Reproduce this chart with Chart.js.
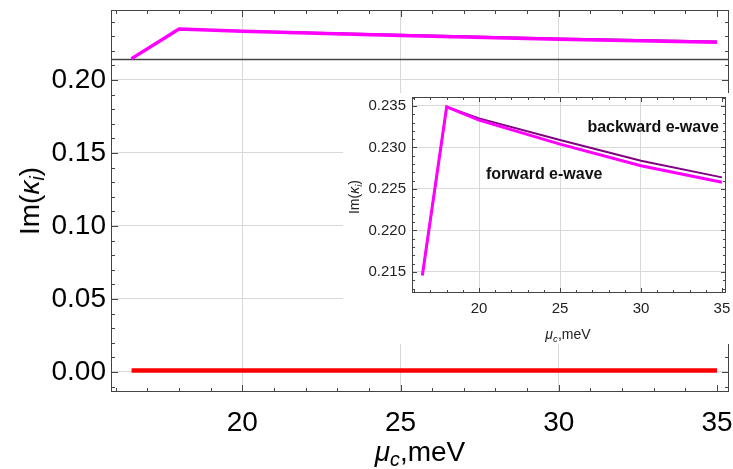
<!DOCTYPE html>
<html>
<head>
<meta charset="utf-8">
<script src="https://cdn.jsdelivr.net/npm/chart.js@4"></script>
<style>
  body { margin: 0; background: #fff; }
  #wrap { position: relative; width: 733px; height: 469px; font-family: "Liberation Sans", Arial, sans-serif; color: #000; }
  #main { position: absolute; left: 0; top: 0; }
  #insetBox { position: absolute; left: 343px; top: 93px; width: 390px; height: 251px; background: #fff; }
  #inset { position: absolute; left: 0; top: 0; }
  .lbl { position: absolute; white-space: nowrap; line-height: 1; transform: translate(-50%, -50%); }
  .rot { transform: translate(-50%, -50%) rotate(-90deg); }
  .lbl sub { font-size: 0.7em; vertical-align: baseline; position: relative; top: 0.28em; }
  .note { position: absolute; white-space: nowrap; line-height: 1; font-weight: bold; font-size: 16px; color: #111; }
</style>
</head>
<body>
<div id="wrap">
  <canvas id="main" width="733" height="469"></canvas>
  <div class="lbl rot" style="left:30px; top:201px; font-size:28px;">Im(<i>κ</i><sub><i>i</i></sub>)</div>
  <div class="lbl" style="left:420px; top:452px; font-size:28px;"><i>μ</i><sub><i>c</i></sub>,meV</div>
  <div id="insetBox">
    <canvas id="inset" width="390" height="251"></canvas>
    <div class="lbl rot" style="left:11px; top:104px; font-size:14px; color:#222;">Im(<i>κ</i><sub><i>i</i></sub>)</div>
    <div class="lbl" style="left:225px; top:241px; font-size:14px; color:#222;"><i>μ</i><sub><i>c</i></sub>,meV</div>
    <div class="note" style="right:14px; top:26px;">backward e-wave</div>
    <div class="note" style="left:143px; top:73px;">forward e-wave</div>
  </div>
</div>
<script>
// data
const muC = [16.5, 18, 20, 25, 30, 35];
const forwardWave = [0.2146, 0.2349, 0.2333, 0.2304, 0.2278, 0.2258];
const backwardWave = [0.2146, 0.2349, 0.2335, 0.2309, 0.2284, 0.2264];
const zeroMode = [0.001, 0.001, 0.001, 0.001, 0.001, 0.001];

const mainXTicks = [20, 25, 30, 35];
const mainYTicks = [0, 0.05, 0.10, 0.15, 0.20];
const insetXTicks = [20, 25, 30, 35];
const insetYTicks = [0.215, 0.220, 0.225, 0.230, 0.235];
const breakLineY = 0.2144;

Chart.defaults.font.family = "'Liberation Sans', Arial, sans-serif";
Chart.defaults.color = '#000';

const pts = (xs, ys) => xs.map((x, i) => ({ x: x, y: ys[i] }));

// Mathematica style frame: box + inward ticks on all sides
const framePlugin = {
    id: 'frame',
    beforeDatasetsDraw(chart, args, o) {
        if (o.refLine === undefined) return;
        const { ctx, chartArea: a, scales: { y } } = chart;
        const py = Math.round(y.getPixelForValue(o.refLine)) + 0.5;
        ctx.save();
        ctx.strokeStyle = '#444';
        ctx.lineWidth = 1.3;
        ctx.beginPath();
        ctx.moveTo(a.left, py);
        ctx.lineTo(a.right, py);
        ctx.stroke();
        ctx.restore();
    },
    afterDatasetsDraw(chart, args, o) {
        const { ctx, chartArea: a, scales: { x, y } } = chart;
        ctx.save();
        ctx.strokeStyle = '#444';
        ctx.lineWidth = 1;
        ctx.strokeRect(a.left + 0.5, a.top + 0.5, a.right - a.left - 1, a.bottom - a.top - 1);
        ctx.beginPath();
        for (let k = Math.ceil(x.min / o.xStep); k * o.xStep <= x.max; k++) {
            const px = Math.round(x.getPixelForValue(k * o.xStep)) + 0.5;
            const len = k % o.every === 0 ? o.major : o.minor;
            ctx.moveTo(px, a.bottom); ctx.lineTo(px, a.bottom - len);
            ctx.moveTo(px, a.top); ctx.lineTo(px, a.top + len);
        }
        for (let k = Math.ceil(y.min / o.yStep - 1e-9); k * o.yStep <= y.max + 1e-12; k++) {
            const py = Math.round(y.getPixelForValue(k * o.yStep)) + 0.5;
            const len = k % o.every === 0 ? o.major : o.minor;
            ctx.moveTo(a.left, py); ctx.lineTo(a.left + len, py);
            ctx.moveTo(a.right, py); ctx.lineTo(a.right - len, py);
        }
        ctx.stroke();
        ctx.restore();
    }
};

function fixWidth(w) {
    return s => { s.width = w; s.paddingTop = 0; s.paddingBottom = 0; };
}
function fixHeight(h) {
    return s => { s.height = h; s.paddingLeft = 0; s.paddingRight = 0; };
}
function gridColor(skip, col) {
    return c => (c.tick && skip.includes(c.tick.value)) ? 'rgba(0,0,0,0)' : col;
}

// =======================
// MAIN CHART
// =======================
new Chart(document.getElementById('main'), {
    type: 'line',
    data: {
        datasets: [
            { data: pts(muC, forwardWave), borderColor: '#ff00ff', borderWidth: 3.5 },
            { data: pts(muC, backwardWave), borderColor: '#800080', borderWidth: 2 },
            { data: pts(muC, zeroMode), borderColor: '#ff0000', borderWidth: 4.5 }
        ]
    },
    plugins: [framePlugin],
    options: {
        responsive: false,
        animation: false,
        events: [],
        layout: { padding: { left: 0, top: 10, right: 4, bottom: 0 } },
        elements: { point: { radius: 0 }, line: { tension: 0, borderCapStyle: 'butt' } },
        scales: {
            x: {
                type: 'linear', min: 15.85, max: 35.38,
                afterBuildTicks: s => { s.ticks = mainXTicks.map(v => ({ value: v })); },
                afterFit: fixHeight(77),
                grid: { color: gridColor([35], '#d9d9d9'), drawTicks: false },
                border: { display: false },
                ticks: { padding: 14, font: { size: 28 }, color: '#000' }
            },
            y: {
                min: -0.0137, max: 0.2479,
                afterBuildTicks: s => { s.ticks = mainYTicks.map(v => ({ value: v })); },
                afterFit: fixWidth(111),
                grid: { color: '#d9d9d9', drawTicks: false },
                border: { display: false },
                ticks: { padding: 5, font: { size: 28 }, color: '#000', callback: v => v.toFixed(2) }
            }
        },
        plugins: {
            legend: { display: false },
            tooltip: { enabled: false },
            frame: { xStep: 1, yStep: 0.01, every: 5, major: 7, minor: 4, refLine: breakLineY }
        }
    }
});

// =======================
// INSET
// =======================
new Chart(document.getElementById('inset'), {
    type: 'line',
    data: {
        datasets: [
            { data: pts(muC, forwardWave), borderColor: '#ff00ff', borderWidth: 3 },
            { data: pts(muC, backwardWave), borderColor: '#800080', borderWidth: 2 }
        ]
    },
    plugins: [framePlugin],
    options: {
        responsive: false,
        animation: false,
        events: [],
        layout: { padding: { left: 0, top: 4, right: 7, bottom: 0 } },
        elements: { point: { radius: 0 }, line: { tension: 0, borderCapStyle: 'butt' } },
        scales: {
            x: {
                type: 'linear', min: 15.86, max: 35.25,
                afterBuildTicks: s => { s.ticks = insetXTicks.map(v => ({ value: v })); },
                afterFit: fixHeight(51),
                grid: { color: gridColor([35], '#d9d9d9'), drawTicks: false },
                border: { display: false },
                ticks: { padding: 7, font: { size: 15 }, color: '#222' }
            },
            y: {
                min: 0.21247, max: 0.23608,
                afterBuildTicks: s => { s.ticks = insetYTicks.map(v => ({ value: v })); },
                afterFit: fixWidth(69),
                grid: { color: '#d9d9d9', drawTicks: false },
                border: { display: false },
                ticks: { padding: 6, font: { size: 15 }, color: '#222', callback: v => v.toFixed(3) }
            }
        },
        plugins: {
            legend: { display: false },
            tooltip: { enabled: false },
            frame: { xStep: 1, yStep: 0.001, every: 5, major: 5, minor: 3 }
        }
    }
});
</script>
</body>
</html>
